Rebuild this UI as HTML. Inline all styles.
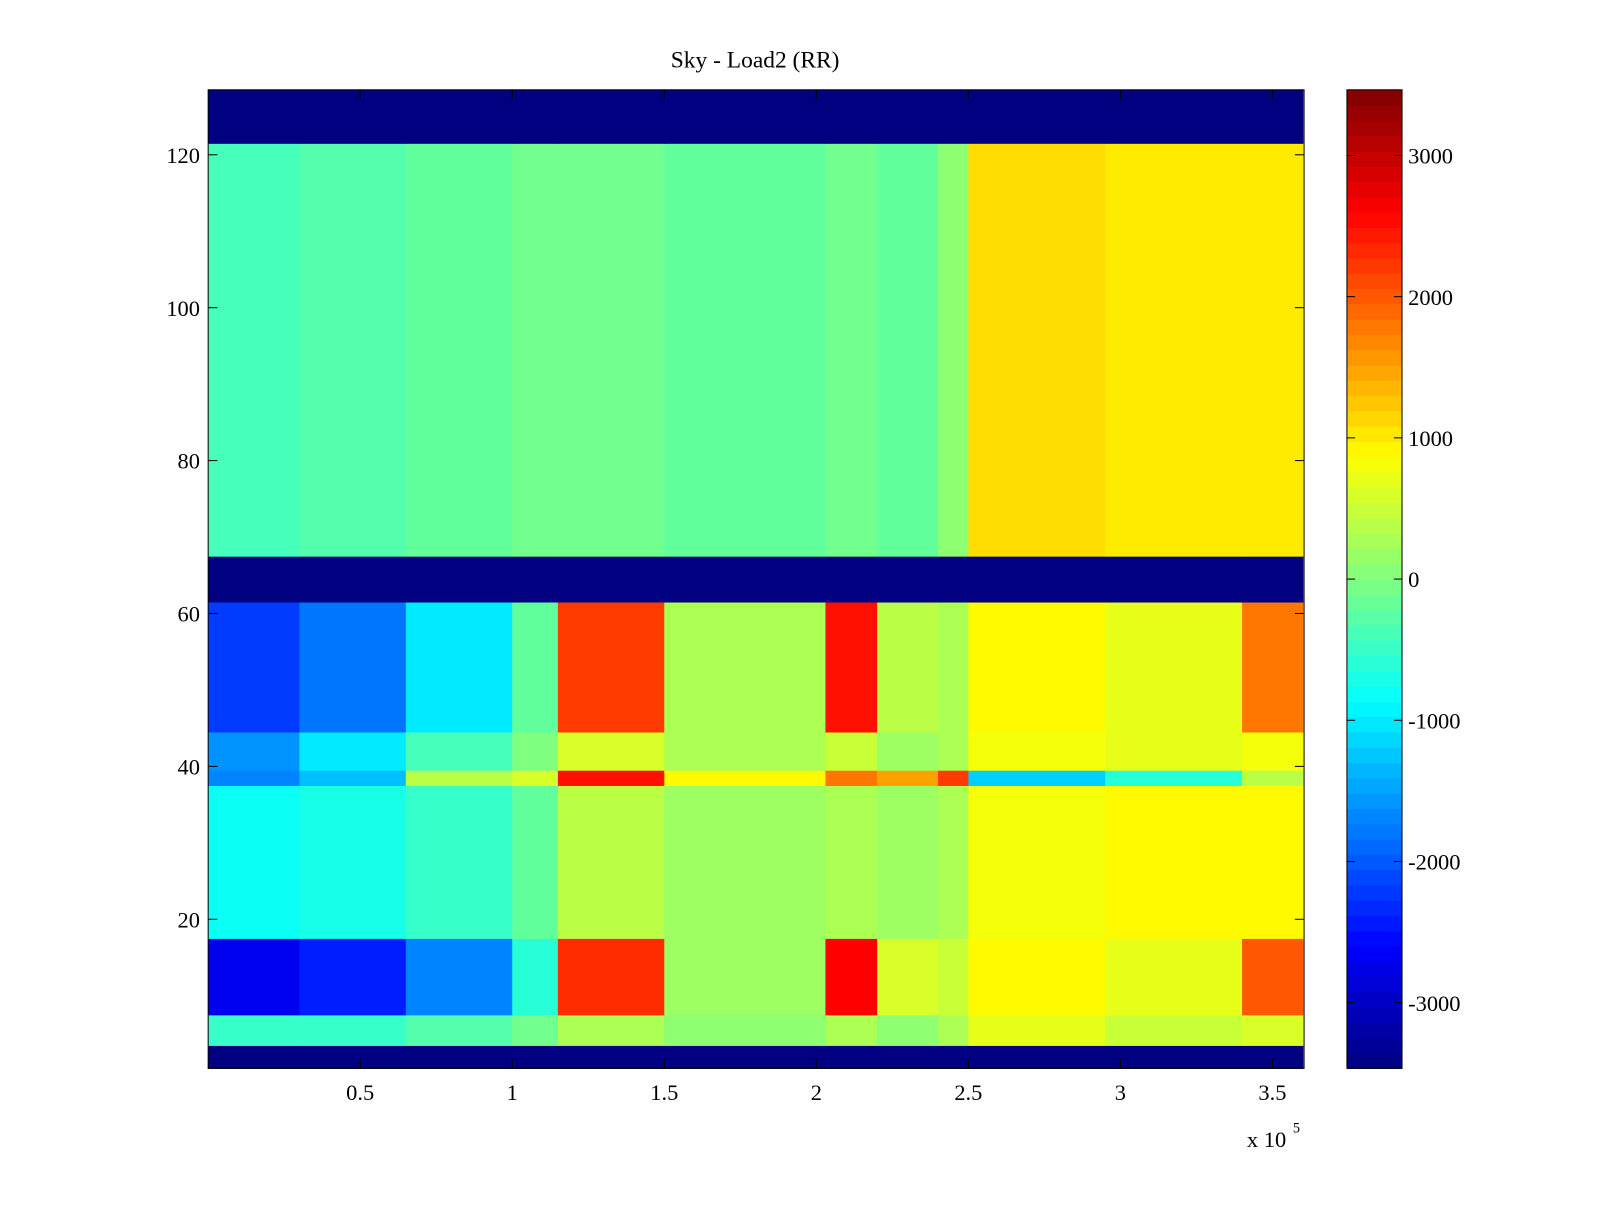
<!DOCTYPE html>
<html><head><meta charset="utf-8"><style>
body{margin:0;background:#fff;}
svg text{font-family:"Liberation Serif",serif;fill:#000;}
</style></head><body>
<svg id="chart" width="1600" height="1200" viewBox="0 0 1600 1200" xmlns="http://www.w3.org/2000/svg">
<rect width="1600" height="1200" fill="#fff"/>
<g transform="scale(1.0204)">
<text x="740" y="66" font-size="23" text-anchor="middle">Sky - Load2 (RR)</text>
<g id="cells"></g>
<g id="axes"></g>
<g id="cbar"></g>
</g>
</svg>
<script>
// x band edges (units of 1e5)
const xEdges = [0,0.3,0.65,1.0,1.15,1.5,2.03,2.2,2.4,2.5,2.95,3.4,3.6];
// row groups: [startRow, endRow]
const rowGroups = [[1,3],[4,7],[8,17],[18,37],[38,39],[40,44],[45,61],[62,67],[68,121],[122,128]];
// values per row group per x band
const groupValues = [
 [-3465,-3465,-3465,-3465,-3465,-3465,-3465,-3465,-3465,-3465,-3465,-3465],
 [-500,-500,-300,-100,300,100,300,100,300,700,500,600],
 [-2700,-2400,-1700,-600,2300,200,2600,600,500,900,700,2000],
 [-800,-700,-500,-200,400,200,300,200,300,800,900,900],
 [-1700,-1300,400,600,2500,900,1800,1500,2200,-1200,-600,400],
 [-1600,-1000,-400,0,600,300,500,200,300,800,700,800],
 [-2200,-1800,-1000,-200,2200,300,2500,400,300,900,700,1800],
 [-3465,-3465,-3465,-3465,-3465,-3465,-3465,-3465,-3465,-3465,-3465,-3465],
 [-400,-300,-200,-100,-100,-200,-100,-200,100,1100,1000,1000],
 [-3465,-3465,-3465,-3465,-3465,-3465,-3465,-3465,-3465,-3465,-3465,-3465]
];
const xTicks = [0.5,1,1.5,2,2.5,3,3.5];
const xTickLabels = ["0.5","1","1.5","2","2.5","3","3.5"];
const yTicks = [20,40,60,80,100,120];
const cTicks = [3000,2000,1000,0,-1000,-2000,-3000];

const X0=204,X1=1278,Y0=88,Y1=1047;
const xMin=0,xMax=3.604,yMin=0.5,yMax=128.5,cMin=-3465,cMax=3465;
const sx=v=>X0+(v-xMin)/(xMax-xMin)*(X1-X0);
const sy=v=>Y1-(v-yMin)/(yMax-yMin)*(Y1-Y0);
const CB0=1320,CB1=1374;
const sc=v=>Y1-(v-cMin)/(cMax-cMin)*(Y1-Y0);
function jet(t){
 t=Math.max(0,Math.min(1,t));
 const c=x=>Math.round(255*Math.max(0,Math.min(1,1.5-Math.abs(x))));
 return `rgb(${c(4*t-3)},${c(4*t-2)},${c(4*t-1)})`;
}
const NS="http://www.w3.org/2000/svg";
function mk(tag,attrs,parent){const e=document.createElementNS(NS,tag);for(const k in attrs)e.setAttribute(k,attrs[k]);parent.appendChild(e);return e;}
const cells=document.getElementById('cells');
rowGroups.forEach((g,gi)=>{
 for(let b=0;b<xEdges.length-1;b++){
  const x=sx(xEdges[b]),x2=sx(Math.min(xEdges[b+1],xMax));
  const ya=sy(g[1]+0.5),yb=sy(g[0]-0.5);
  const r=mk('rect',{x:x,y:ya,width:x2-x+0.5,height:yb-ya+0.5,fill:jet((groupValues[gi][b]-cMin)/(cMax-cMin))},cells);
  
  
 }
});
const ax=document.getElementById('axes');
const frame=mk('rect',{x:X0,y:Y0,width:X1-X0,height:Y1-Y0,fill:'none',stroke:'#000','stroke-width':1},ax);


xTicks.forEach((v,i)=>{
 const x=sx(v);
 mk('line',{x1:x,x2:x,y1:Y1,y2:Y1-9,stroke:'#000'},ax);
 mk('line',{x1:x,x2:x,y1:Y0,y2:Y0+9,stroke:'#000'},ax);
 const t=mk('text',{x:x,y:Y1+31,'font-size':22,'text-anchor':'middle'},ax);
 t.textContent=xTickLabels[i];
 
 
});
yTicks.forEach(v=>{
 const y=sy(v);
 mk('line',{x1:X0,x2:X0+9,y1:y,y2:y,stroke:'#000'},ax);
 mk('line',{x1:X1,x2:X1-9,y1:y,y2:y,stroke:'#000'},ax);
 const t=mk('text',{x:X0-8,y:y+8,'font-size':22,'text-anchor':'end'},ax);
 t.textContent=String(v);
 
 
});
const ex=mk('text',{x:1222,y:1124,'font-size':22},ax);
ex.textContent='x 10';


const ex2=mk('text',{x:1267,y:1110,'font-size':14},ax);
ex2.textContent='5';


const cb=document.getElementById('cbar');
const N=64;
for(let i=0;i<N;i++){
 const va=cMin+(cMax-cMin)*i/N,vb=cMin+(cMax-cMin)*(i+1)/N;
 const r=mk('rect',{x:CB0,y:sc(vb),width:CB1-CB0,height:sc(va)-sc(vb)+0.5,fill:jet((i+0.5)/N)},cb);
 
 
}
mk('rect',{x:CB0,y:Y0,width:CB1-CB0,height:Y1-Y0,fill:'none',stroke:'#000'},cb);
cTicks.forEach(v=>{
 const y=sc(v);
 mk('line',{x1:CB0,x2:CB0+8,y1:y,y2:y,stroke:'#000'},cb);
 mk('line',{x1:CB1,x2:CB1-8,y1:y,y2:y,stroke:'#000'},cb);
 const t=mk('text',{x:CB1+6,y:y+8,'font-size':22},cb);
 t.textContent=String(v);
 
 
});
</script>
</body></html>
